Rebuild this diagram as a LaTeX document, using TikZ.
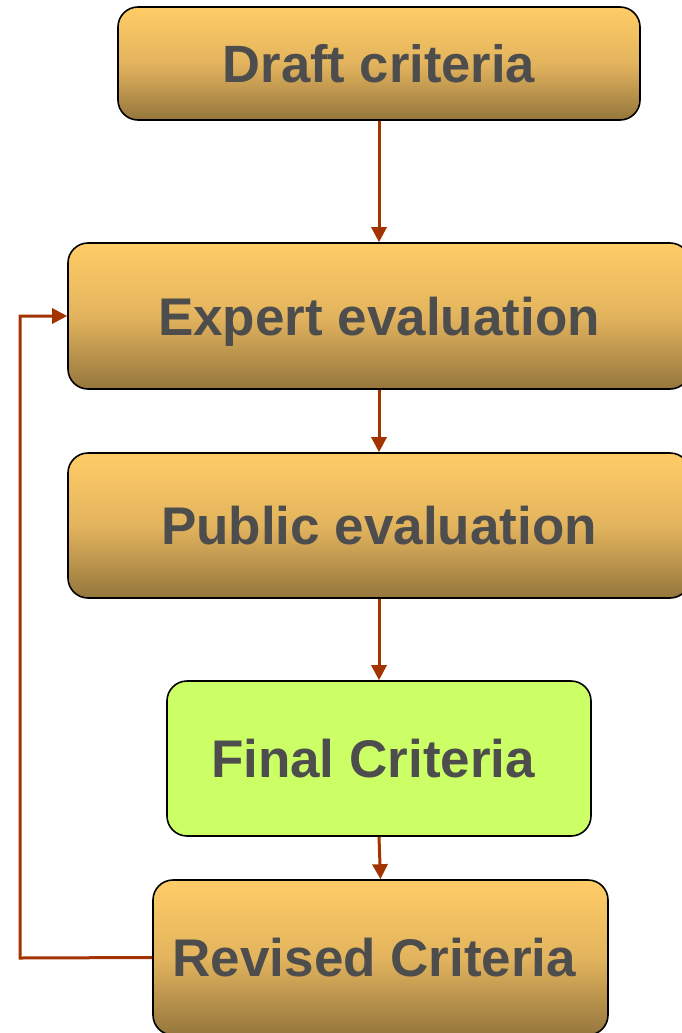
\documentclass[tikz,border=0pt]{standalone}
\usepackage{fontspec}
\setmainfont{Liberation Sans}
\usetikzlibrary{arrows.meta}
\definecolor{boxtop}{HTML}{FFCC66}
\definecolor{boxmid}{HTML}{E3B45E}
\definecolor{boxbot}{HTML}{95763C}
\definecolor{finalfill}{HTML}{CCFF66}
\definecolor{txtgrey}{HTML}{4D4D4D}
\definecolor{arrowred}{HTML}{A33300}
\tikzset{
  stagebox/.style={draw=black, line width=1.6pt, rounded corners=20pt, top color=boxtop, bottom color=boxbot, middle color=boxmid,
    inner sep=0pt, text=txtgrey, font=\bfseries\fontsize{53}{60}\selectfont, text height=38.5pt, text depth=0pt},
  finalbox/.style={stagebox, top color=finalfill, bottom color=finalfill, middle color=finalfill},
  flow/.style={draw=arrowred, line width=3pt, -{Triangle[length=15pt,width=15pt]}},
}
\begin{document}
\begin{tikzpicture}[x=1pt,y=-1pt]
\useasboundingbox (0,0) rectangle (681,1033);
\node[stagebox, minimum width=522pt, minimum height=113pt, font=\bfseries\fontsize{52.5}{58}\selectfont, text height=37pt] (draft) at (379,63.5) {Draft criteria};
\node[stagebox, minimum width=622pt, minimum height=146pt] (expert) at (379,316) {Expert evaluation};
\node[stagebox, minimum width=622pt, minimum height=145pt] (public) at (379,525.5) {Public evaluation};
\node[finalbox, minimum width=424pt, minimum height=155pt] (final) at (379,758.5) {Final Criteria\hspace*{12pt}};
\node[stagebox, minimum width=455pt, minimum height=155pt] (revised) at (380.5,957.5) {Revised Criteria\hspace*{12pt}};
\coordinate (loop) at (20,958);
\draw[flow] (draft.south) -- (expert.north);
\draw[flow] (expert.south) -- (public.north);
\draw[flow] (public.south) -- (final.north);
\draw[flow] (final.south) -- (revised.north);
\draw[flow] (revised.west) -- (loop) |- (expert.west);
\end{tikzpicture}
\end{document}
